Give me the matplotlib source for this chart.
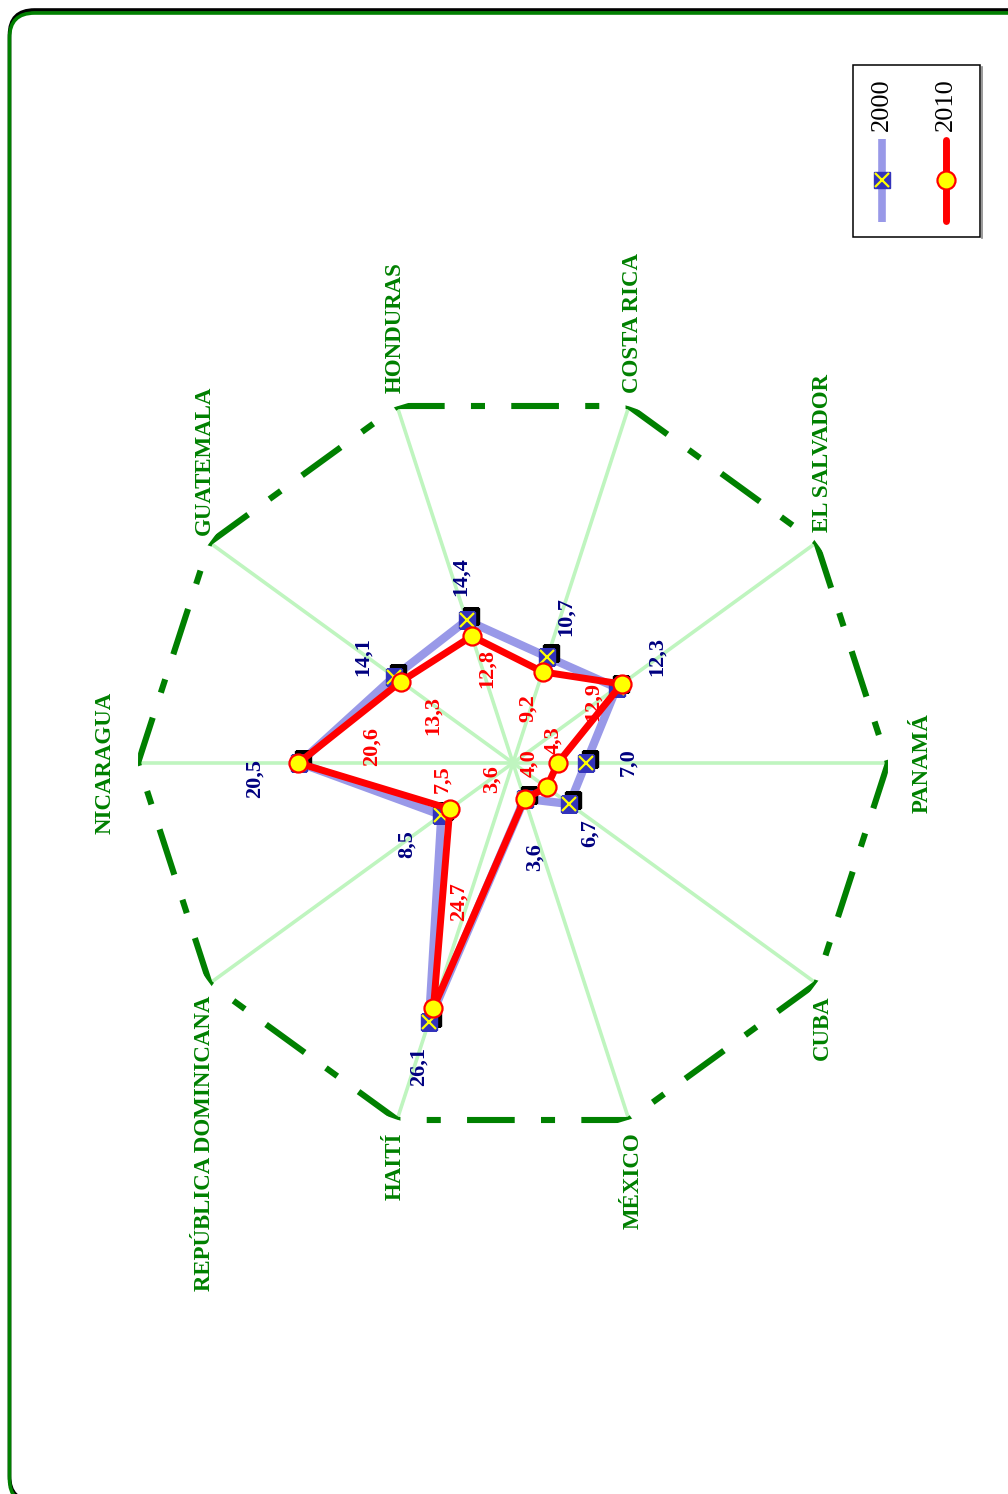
import numpy as np
import matplotlib
matplotlib.use('Agg')
import matplotlib.pyplot as plt
import matplotlib.transforms as mtransforms
from matplotlib.patches import FancyBboxPatch, Rectangle
from matplotlib.lines import Line2D

# ---------------- data ----------------
categories = ['NICARAGUA', 'GUATEMALA', 'HONDURAS', 'COSTA RICA', 'EL SALVADOR',
              'PANAMÁ', 'CUBA', 'MÉXICO', 'HAITÍ', 'REPÚBLICA DOMINICANA']
v2000 = [20.5, 14.1, 14.4, 10.7, 12.3, 7.0, 6.7, 3.6, 26.1, 8.5]
v2010 = [20.6, 13.3, 12.8, 9.2, 12.9, 4.3, 4.0, 3.6, 24.7, 7.5]
series_names = ['2000', '2010']
rmax = 36

# ---------------- styles / label placement (pixels) ----------------
W, H = 1008, 1494
GREEN = '#008000'
C2000 = '#9999e8'
C2010 = '#ff0000'
# category label: (dx, dy, ha, va)
cat_place = [(-22, 0, 'right', 'center'), (-5, 8, 'center', 'bottom'),
             (-2, 13, 'center', 'bottom'), (4, 13, 'center', 'bottom'),
             (6, 11, 'center', 'bottom'), (24, 0, 'left', 'center'),
             (6, -12, 'center', 'top'), (4, -13, 'center', 'top'),
             (-2, -13, 'center', 'top'), (-5, -12, 'center', 'top')]
off2000 = [(-45, -15), (-31, 20), (-6, 44), (18, 40), (40, 31),
           (42, 1), (20, -29), (10, -58), (-10, -45), (-35, -29)]
off2010 = [(73, 17), (32, -34), (15, -32), (-15, -36), (-29, -17),
           (-4, 23), (-17, 24), (-33, 20), (25, 106), (-7, 30)]

fig = plt.figure(figsize=(W / 100, H / 100), dpi=100)
fig.patch.set_facecolor('white')

# ---------------- border ----------------
ident = mtransforms.IdentityTransform()
for col, dy in (('black', 3), (GREEN, 0)):
    fig.add_artist(FancyBboxPatch((9.5, -10 + dy), 1040, 1491,
                                  boxstyle='round,pad=0,rounding_size=25',
                                  transform=ident, facecolor='none',
                                  edgecolor=col, lw=2.6, zorder=0))

# ---------------- radar axes ----------------
cx, cy, R = 513, 763, 375
ax = fig.add_axes([(cx - R) / W, (H - cy - R) / H, 2 * R / W, 2 * R / H],
                  projection='polar')
ax.set_theta_offset(np.pi)
ax.set_theta_direction(-1)
ax.set_ylim(0, rmax)
ax.axis('off')

n = len(categories)
theta = np.arange(n) * 2 * np.pi / n

# spokes
for t in theta:
    ax.plot([t, t], [0, rmax], color='#bff5bf', lw=2.6, zorder=1,
            solid_capstyle='butt')
# outer ring (dash-dot, restarting at each vertex)
for i in range(n):
    t0, t1 = theta[i], theta[(i + 1) % n]
    ax.plot([t0, t1], [rmax, rmax], color=GREEN, lw=4.4,
            dashes=(7.8, 4.3, 2.3, 4.3), dash_capstyle='butt', zorder=2)

# category labels
for i, name in enumerate(categories):
    dx, dy, ha, va = cat_place[i]
    ax.annotate(name, xy=(theta[i], rmax), xytext=(dx, dy),
                textcoords='offset pixels', rotation=90, ha=ha, va=va,
                family='Liberation Serif', weight='bold', size=16.5,
                color=GREEN, zorder=10, annotation_clip=False)

tc = np.append(theta, theta[0])
a2000 = np.append(v2000, v2000[0])
a2010 = np.append(v2010, v2010[0])

# 2000 series
ax.plot(tc, a2000, color=C2000, lw=6, zorder=3, solid_joinstyle='round')
shadow = mtransforms.offset_copy(ax.transData, fig=fig, x=4, y=4, units='dots')
ax.plot(theta, v2000, ls='none', marker='s', ms=12, mfc='black', mec='black',
        transform=shadow, zorder=4)
ax.plot(theta, v2000, ls='none', marker='s', ms=12, mfc='#3333bb',
        mec='#3333bb', zorder=5)
ax.plot(theta, v2000, ls='none', marker='x', ms=10, mec='#ffff00', mew=1.6,
        zorder=6)

# 2010 series
ax.plot(tc, a2010, color=C2010, lw=5, zorder=7, solid_joinstyle='round')
ax.plot(theta, v2010, ls='none', marker='o', ms=13, mfc='#ffff00',
        mec=C2010, mew=1.6, zorder=8)

# data labels
def fmt(v):
    return f'{v:.1f}'.replace('.', ',')

for i in range(n):
    ax.annotate(fmt(v2000[i]), xy=(theta[i], v2000[i]), xytext=off2000[i],
                textcoords='offset pixels', rotation=90, ha='center',
                va='center', family='Liberation Serif', weight='bold',
                size=16, color='#000080', zorder=12, annotation_clip=False)
    ax.annotate(fmt(v2010[i]), xy=(theta[i], v2010[i]), xytext=off2010[i],
                textcoords='offset pixels', rotation=90, ha='center',
                va='center', family='Liberation Serif', weight='bold',
                size=16, color=C2010, zorder=12, annotation_clip=False)

# ---------------- legend (rotated, drawn by hand) ----------------
def d(x, y):
    return x, H - y

lx0, ly0, lx1, ly1 = 853, 65, 980, 237
fig.add_artist(Line2D([lx1 + 1.5, lx1 + 1.5], [H - ly0 - 2, H - ly1 - 1],
                      transform=ident, color='#888888', lw=1.2))
fig.add_artist(Rectangle(d(lx0, ly1), lx1 - lx0, ly1 - ly0, transform=ident,
                         facecolor='white', edgecolor='black', lw=1.1))
for xs, name in ((882, series_names[0]), (946, series_names[1])):
    fig.text(xs / W, 1 - 105 / H, name, rotation=90, ha='center', va='center',
             family='Liberation Serif', size=19, color='black')
fig.add_artist(Line2D([882, 882], [H - 139, H - 222], transform=ident,
                      color=C2000, lw=5.5, solid_capstyle='butt'))
fig.add_artist(Line2D([882], [H - 180], transform=ident, marker='s', ms=12,
                      mfc='#3333bb', mec='#3333bb', ls='none'))
fig.add_artist(Line2D([882], [H - 180], transform=ident, marker='x', ms=10,
                      mec='#ffff00', mew=1.6, ls='none'))
fig.add_artist(Line2D([946, 946], [H - 140, H - 221], transform=ident,
                      color=C2010, lw=5, solid_capstyle='round'))
fig.add_artist(Line2D([946], [H - 180], transform=ident, marker='o', ms=13,
                      mfc='#ffff00', mec=C2010, mew=1.6, ls='none'))

fig.savefig('out.png', dpi=100, facecolor='white')
